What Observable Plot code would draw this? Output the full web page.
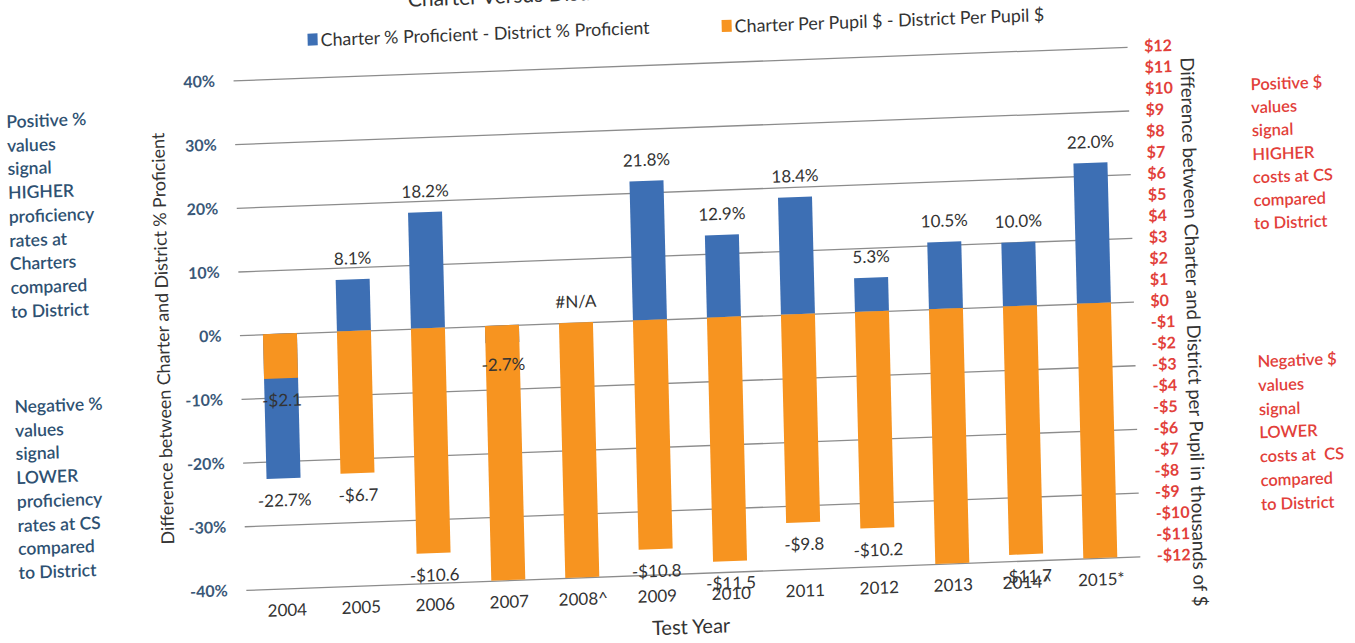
<!DOCTYPE html>
<html>
<head>
<meta charset="utf-8">
<script src="https://cdn.jsdelivr.net/npm/d3@7"></script>
<script src="https://cdn.jsdelivr.net/npm/@observablehq/plot@0.6"></script>
<style>
  html, body { margin: 0; padding: 0; background: #fff; overflow: hidden; width: 1355px; height: 643px; }
  #wrap { position: relative; width: 1355px; height: 643px; transform: matrix(1, -0.0376, 0.025, 1, 0, 0); transform-origin: 677.5px 321.5px; font-family: Lato, "Open Sans", sans-serif; }
  #wrap svg { position: absolute; left: 0; top: 0; overflow: visible; }
  .abs { position: absolute; white-space: nowrap; }
  .note { position: absolute; white-space: pre; font-size: 17.5px; line-height: 23.7px; font-weight: 600; }
  .blueNote { color: #2e5172; }
  .redNote { color: #e2403a; font-size: 16.5px; }
  .legend { position: absolute; font-size: 17.8px; color: #333; white-space: nowrap; display: flex; align-items: center; }
  .sw { display: inline-block; width: 10px; height: 12px; margin-right: 3px; }
</style>
</head>
<body>
<div id="wrap">
  <div class="abs" style="left:416px; top:-24px; font-size:21px; color:#333;">Charter Versus District</div>
  <div class="legend" style="left:315px; top:15px;"><span class="sw" style="background:#3d6fb4"></span><span id="lg1"></span></div>
  <div class="legend" style="left:729px; top:17px;"><span class="sw" style="background:#f79420"></span><span id="lg2"></span></div>
  <div class="note blueNote" id="n1" style="left:12px; top:85px;"></div>
  <div class="note blueNote" id="n2" style="left:13px; top:370px;"></div>
  <div class="note redNote" id="n3" style="left:1256px; top:95px; line-height:23.2px;"></div>
  <div class="note redNote" id="n4" style="left:1256px; top:372px; line-height:23.8px;"></div>
</div>
<script>
// ---- data ----
const years = ["2004","2005","2006","2007","2008^","2009","2010","2011","2012","2013","2014^","2015*"];
const pctDiff = [-22.7, 8.1, 18.2, -2.7, null, 21.8, 12.9, 18.4, 5.3, 10.5, 10.0, 22.0];
const pctLabels = ["-22.7%","8.1%","18.2%","-2.7%","#N/A","21.8%","12.9%","18.4%","5.3%","10.5%","10.0%","22.0%"];
const dollarDiff = [-2.1, -6.7, -10.6, -12, -12, -10.8, -11.5, -9.8, -10.2, -12, -11.7, -12];
const dollarLabels = ["-$2.1","-$6.7","-$10.6",null,null,"-$10.8","-$11.5","-$9.8","-$10.2",null,"-$11.7",null];
const pctTicks = [-40, -30, -20, -10, 0, 10, 20, 30, 40];
const dollarTicks = [-12,-11,-10,-9,-8,-7,-6,-5,-4,-3,-2,-1,0,1,2,3,4,5,6,7,8,9,10,11,12];
const legendLabels = ["Charter % Proficient - District % Proficient", "Charter Per Pupil $ - District Per Pupil $"];
const leftTitle = "Difference between Charter and District % Proficient";
const rightTitle = "Difference between Charter and District per Pupil in thousands of $";
const xTitle = "Test Year";
const notes = [
  "Positive %\nvalues\nsignal\nHIGHER\nproficiency\nrates at\nCharters\ncompared\nto District",
  "Negative %\nvalues\nsignal\nLOWER\nproficiency\nrates at CS\ncompared\nto District",
  "Positive $\nvalues\nsignal\nHIGHER\ncosts at CS\ncompared\nto District",
  "Negative $\nvalues\nsignal\nLOWER\ncosts at  CS\ncompared\nto District"
];

// secondary axis mapping: $12 thousand <-> 40%
const k = 40 / 12;
const blue = "#3d6fb4", orange = "#f79420", red = "#e2403a";

const rows = years.map((y, i) => ({
  year: y, pct: pctDiff[i], pctLabel: pctLabels[i], dollar: dollarDiff[i], dollarLabel: dollarLabels[i]
}));

const fmtDollar = v => { const d = Math.round(v / k); return d < 0 ? "-$" + (-d) : "$" + d; };

const chart = Plot.plot({
  width: 1355,
  height: 643,
  marginLeft: 240,
  marginRight: 221,
  marginTop: 64,
  marginBottom: 69.5,
  style: { fontFamily: "Lato, 'Open Sans', sans-serif", background: "transparent", color: "#333", overflow: "visible" },
  x: { domain: years, paddingInner: 0.54, paddingOuter: 0.27, axis: null },
  y: { domain: [-40, 40], axis: null },
  marks: [
    Plot.ruleY(pctTicks, { stroke: "#8c8c8c", strokeWidth: 1.3 }),
    Plot.barY(rows.filter(d => d.pct != null), { x: "year", y: "pct", fill: blue }),
    Plot.barY(rows, { x: "year", y: d => d.dollar * k, fill: orange }),
    Plot.text(rows.filter(d => (d.pct ?? 0) >= 0), {
      x: "year", y: d => d.pct ?? 0, text: "pctLabel", dy: -21, fontSize: 17, fill: "#333"
    }),
    Plot.text(rows.filter(d => (d.pct ?? 0) < 0), {
      x: "year", y: "pct", text: "pctLabel", dy: 22, fontSize: 17, fill: "#333"
    }),
    Plot.text(rows.filter(d => d.dollarLabel), {
      x: "year", y: d => d.dollar * k, text: "dollarLabel", dy: 22, fontSize: 17, fill: "#333"
    }),
    Plot.axisX({ tickSize: 0, tickPadding: 15, fontSize: 17, label: null, fill: "#333" }),
    Plot.axisY(pctTicks, {
      anchor: "left", tickSize: 0, tickPadding: 19, tickFormat: d => d + "%", label: null,
      fontSize: 16, fontWeight: "bold", fill: "#3a5878"
    }),
    Plot.axisY(dollarTicks.map(d => d * k), {
      anchor: "right", tickSize: 0, tickPadding: 16, tickFormat: fmtDollar, label: null,
      fontSize: 16, fontWeight: "bold", fill: red
    }),
    Plot.text([leftTitle], { frameAnchor: "left", textAnchor: "middle", rotate: -90, dx: -77, fontSize: 17.8, fill: "#333" }),
    Plot.text([rightTitle], { frameAnchor: "right", textAnchor: "middle", rotate: 90, dx: 58, dy: 32, fontSize: 18.6, fill: "#333" }),
    Plot.text([xTitle], { frameAnchor: "bottom", dx: -4, dy: 60, fontSize: 20, fill: "#333" })
  ]
});

const wrap = document.getElementById("wrap");
wrap.insertBefore(chart, wrap.firstChild);
document.getElementById("lg1").textContent = legendLabels[0];
document.getElementById("lg2").textContent = legendLabels[1];
["n1","n2","n3","n4"].forEach((id, i) => document.getElementById(id).textContent = notes[i]);
</script>
</body>
</html>
